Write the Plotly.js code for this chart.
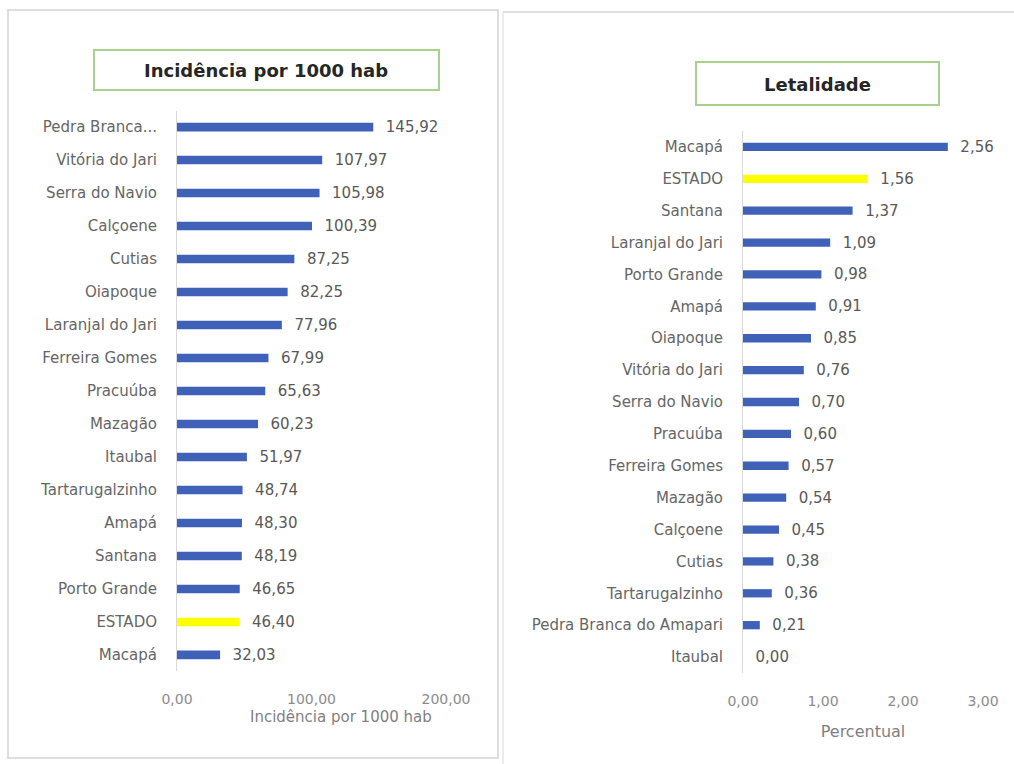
<!DOCTYPE html>
<html>
<head>
<meta charset="utf-8">
<script src="https://cdn.plot.ly/plotly-3.0.1.min.js"></script>
<style>html,body{margin:0;padding:0;background:#fff;}#chart{width:1014px;height:764px;}</style>
</head>
<body>
<div id="chart"></div>
<script>
// Incidência por 1000 hab (top to bottom)
var incCategories = ["Pedra Branca...", "Vitória do Jari", "Serra do Navio", "Calçoene", "Cutias", "Oiapoque",
  "Laranjal do Jari", "Ferreira Gomes", "Pracuúba", "Mazagão", "Itaubal", "Tartarugalzinho",
  "Amapá", "Santana", "Porto Grande", "ESTADO", "Macapá"];
var incValues = [145.92, 107.97, 105.98, 100.39, 87.25, 82.25, 77.96, 67.99, 65.63, 60.23, 51.97, 48.74,
  48.30, 48.19, 46.65, 46.40, 32.03];
var incTicks = [0, 100, 200];

// Letalidade (top to bottom)
var letCategories = ["Macapá", "ESTADO", "Santana", "Laranjal do Jari", "Porto Grande", "Amapá", "Oiapoque",
  "Vitória do Jari", "Serra do Navio", "Pracuúba", "Ferreira Gomes", "Mazagão", "Calçoene", "Cutias",
  "Tartarugalzinho", "Pedra Branca do Amapari", "Itaubal"];
var letValues = [2.56, 1.56, 1.37, 1.09, 0.98, 0.91, 0.85, 0.76, 0.70, 0.60, 0.57, 0.54, 0.45, 0.38,
  0.36, 0.21, 0.00];
var letTicks = [0, 1, 2, 3];

var highlight = "ESTADO";
var BLUE = "#3f62b8", YELLOW = "#ffff00";
var FONT = "DejaVu Sans";
function colorsFor(cats) { return cats.map(function (c) { return c === highlight ? YELLOW : BLUE; }); }

var W = 1014, H = 764;
function px(x) { return x / W; }
function py(y) { return 1 - y / H; }

var barCommon = {
  type: "bar", orientation: "h", width: 0.26,
  textposition: "outside", constraintext: "none", cliponaxis: false,
  textfont: { family: FONT, size: 15, color: "#595959" },
  hoverinfo: "skip", showlegend: false
};

var trace1 = Object.assign({}, barCommon, {
  x: incValues, y: incCategories, xaxis: "x", yaxis: "y",
  marker: { color: colorsFor(incCategories) },
  texttemplate: "\u00a0\u00a0%{x:.2f}"
});
var trace2 = Object.assign({}, barCommon, {
  x: letValues, y: letCategories, xaxis: "x2", yaxis: "y2",
  marker: { color: colorsFor(letCategories) },
  texttemplate: "\u00a0\u00a0%{x:.2f}"
});

var xCommon = {
  showgrid: false, zeroline: false, showline: false, ticks: "",
  tickformat: ".2f", ticklabelstandoff: 18,
  tickfont: { family: FONT, size: 14, color: "#8c8c8c" }, fixedrange: true
};
var yCommon = {
  showgrid: false, zeroline: false, showline: true, linecolor: "#d9d9d9", linewidth: 1,
  ticks: "", ticklabelstandoff: 16, autorange: "reversed", type: "category",
  tickfont: { family: FONT, size: 15, color: "#666666" }, fixedrange: true
};

var layout = {
  width: W, height: H,
  margin: { l: 0, r: 0, t: 0, b: 0 },
  paper_bgcolor: "#ffffff", plot_bgcolor: "rgba(0,0,0,0)",
  separators: ",.",
  font: { family: FONT },
  bargap: 0.74,
  xaxis: Object.assign({}, xCommon, { domain: [px(177), px(446)], range: [0, 200], tickvals: incTicks, anchor: "y" }),
  yaxis: Object.assign({}, yCommon, { domain: [py(671.4), py(110.6)], anchor: "x" }),
  xaxis2: Object.assign({}, xCommon, {
    domain: [px(743), px(983)], range: [0, 3], tickvals: letTicks, anchor: "y2",
    title: { text: "Percentual", standoff: 17, font: { family: FONT, size: 16, color: "#7f7f7f" } }
  }),
  yaxis2: Object.assign({}, yCommon, { domain: [py(673), py(131)], anchor: "x2" }),
  shapes: [
    { type: "rect", xref: "paper", yref: "paper", x0: px(8), x1: px(498), y0: py(758), y1: py(10),
      line: { color: "#d4d4d4", width: 1.5 }, fillcolor: "rgba(0,0,0,0)", layer: "below" },
    { type: "line", xref: "paper", yref: "paper", x0: px(503), x1: 1.01, y0: py(12), y1: py(12),
      line: { color: "#d4d4d4", width: 1.5 }, layer: "below" },
    { type: "line", xref: "paper", yref: "paper", x0: px(503), x1: px(503), y0: py(12), y1: -0.01,
      line: { color: "#e6e6e6", width: 1.5 }, layer: "below" },
    { type: "rect", xref: "paper", yref: "paper", x0: px(94), x1: px(439), y0: py(90), y1: py(50),
      line: { color: "#a9d18e", width: 2 }, fillcolor: "#ffffff", layer: "below" },
    { type: "rect", xref: "paper", yref: "paper", x0: px(696), x1: px(939), y0: py(105), y1: py(62),
      line: { color: "#a9d18e", width: 2 }, fillcolor: "#ffffff", layer: "below" }
  ],
  annotations: [
    { text: "<b>Incidência por 1000 hab</b>", xref: "paper", yref: "paper", x: px(266), y: py(70),
      xanchor: "center", yanchor: "middle", showarrow: false,
      font: { family: FONT, size: 18, color: "#262626" } },
    { text: "<b>Letalidade</b>", xref: "paper", yref: "paper", x: px(817), y: py(84),
      xanchor: "center", yanchor: "middle", showarrow: false,
      font: { family: FONT, size: 18, color: "#262626" } },
    { text: "Incidência por 1000 hab", xref: "paper", yref: "paper", x: px(341), y: py(717),
      xanchor: "center", yanchor: "middle", showarrow: false,
      font: { family: FONT, size: 15, color: "#7f7f7f" } }
  ]
};

Plotly.newPlot("chart", [trace1, trace2], layout, { displayModeBar: false, staticPlot: true });
</script>
</body>
</html>
